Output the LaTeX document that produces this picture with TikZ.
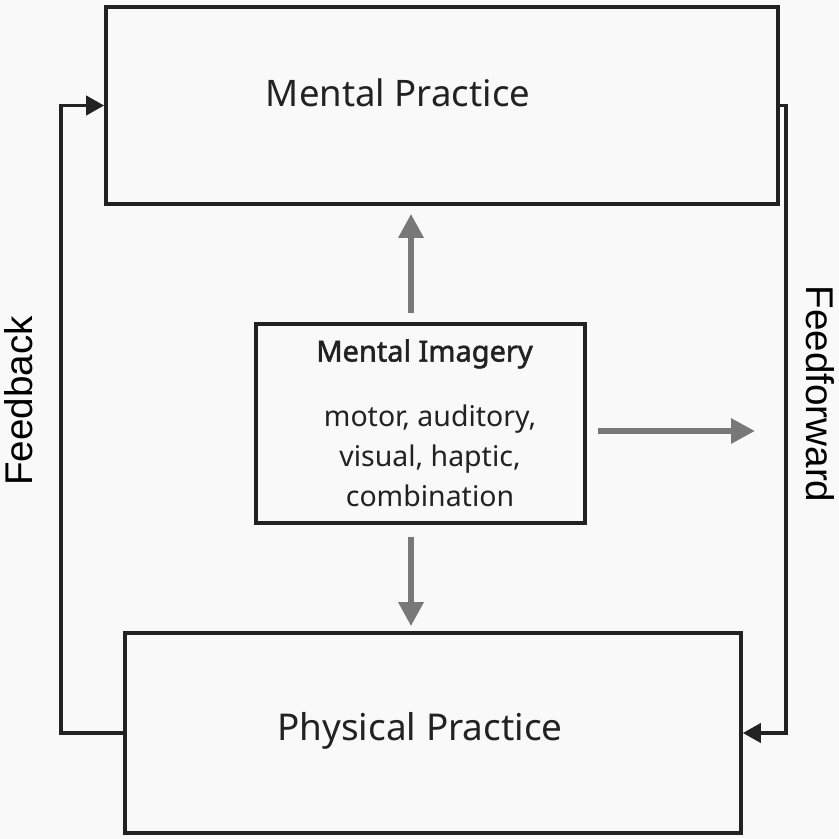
\documentclass[tikz,border=0pt]{standalone}
\usepackage{fontspec}
\setmainfont{Noto Sans}
\newfontfamily\arialfont{Liberation Sans}
\newfontfamily\boldishfont{Noto Sans}[FakeBold=1.8]
\usetikzlibrary{arrows.meta}
\definecolor{bgcol}{HTML}{F9F9F9}
\definecolor{framecol}{HTML}{222222}
\definecolor{arrcol}{HTML}{787878}

\begin{document}
\begin{tikzpicture}[x=0.02cm,y=-0.02cm]
	\tikzstyle{block}=[draw=framecol,line width=0.075cm,rectangle,inner sep=0pt]
	\tikzstyle{loop}=[draw=framecol,line width=0.075cm,-{Triangle[length=0.36cm,width=0.38cm]}]
	\tikzstyle{gar}=[draw=arrcol,line width=0.13cm,-{Triangle[length=0.48cm,width=0.48cm]}]

	\fill[bgcol] (0,0) rectangle (839,839);
	\useasboundingbox (0,0) rectangle (839,839);

	\node[block,minimum width=13.44cm,minimum height=3.94cm] (MP) at (442,105.5) {};
	\node[block,minimum width=6.58cm,minimum height=3.98cm] (MI) at (420.5,423.5) {};
	\node[block,minimum width=12.32cm,minimum height=4cm] (PP) at (433,733) {};

	\node[font=\fontsize{20.8pt}{21pt}\selectfont,text=framecol] (MPtxt) at (398,93) {Mental Practice};
	\node[font=\fontsize{21pt}{21pt}\selectfont,text=framecol] (PPtxt) at (420,731) {Physical Practice};
	\node[font=\boldishfont\fontsize{16.5pt}{16.5pt}\selectfont,text=framecol] (MItxt) at (424.5,354) {Mental Imagery};
	\node[font=\fontsize{16.2pt}{22.8pt}\selectfont,text=framecol,align=center] (MIsub) at (430,456)
	{motor, auditory,\\visual, haptic,\\combination};

	\node[font=\arialfont\fontsize{22pt}{22pt}\selectfont,rotate=90] (FB) at (19,401) {Feedback};
	\node[font=\arialfont\fontsize{22pt}{22pt}\selectfont,rotate=-90] (FF) at (820,394) {Feedforward};

	\coordinate (fbx) at (61,0);
	\coordinate (ffx) at (786,0);
	\coordinate (ax) at (411,0);
	\coordinate (rgt) at (755,431);

	\draw[loop] (PP.west) -- (PP.west -| fbx) |- (MP.west);
	\draw[loop] (MP.east) -- (MP.east -| ffx) |- (PP.east);

	\draw[gar,shorten <=0.18cm,shorten >=0.16cm] (MI.north -| ax) -- (MP.south -| ax);
	\draw[gar,shorten <=0.24cm,shorten >=0.1cm] (MI.south -| ax) -- (PP.north -| ax);
	\draw[gar,shorten <=0.22cm] (MI.east |- rgt) -- (rgt);
\end{tikzpicture}
\end{document}
